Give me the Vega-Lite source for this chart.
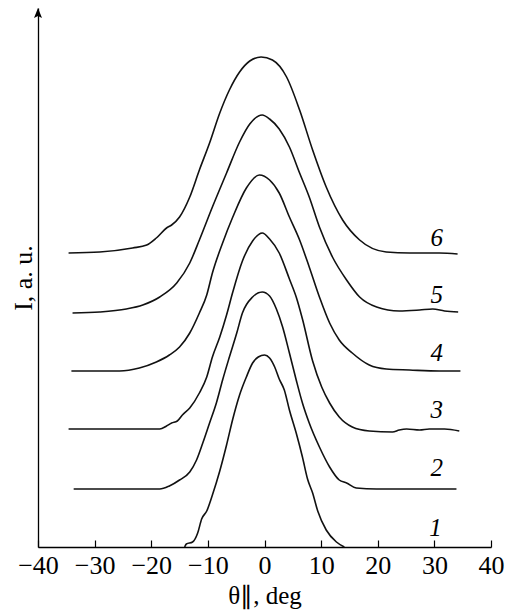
{
  "$schema": "https://vega.github.io/schema/vega-lite/v6.json",
  "width": 453,
  "height": 539,
  "autosize": {"type": "none"},
  "padding": {"left": 38, "top": 8, "right": 20, "bottom": 69},
  "background": "white",
  "config": {
    "view": {"stroke": null},
    "font": "Liberation Serif",
    "axis": {"grid": false, "domainColor": "black", "tickColor": "black", "labelColor": "black", "titleColor": "black", "labelFont": "Liberation Serif", "titleFont": "Liberation Serif", "titleFontWeight": "normal", "domainWidth": 1.3, "tickWidth": 1.2}
  },
  "datasets": {
    "curves": [
      {"curve": "6", "theta": -34.6, "I": 294}, {"curve": "6", "theta": -29.1, "I": 295}, {"curve": "6", "theta": -23.3, "I": 299}, {"curve": "6", "theta": -20.8, "I": 302}, {"curve": "6", "theta": -19.1, "I": 309}, {"curve": "6", "theta": -17.3, "I": 319}, {"curve": "6", "theta": -16.4, "I": 322}, {"curve": "6", "theta": -15.0, "I": 330}, {"curve": "6", "theta": -13.2, "I": 350}, {"curve": "6", "theta": -11.5, "I": 377}, {"curve": "6", "theta": -9.7, "I": 404}, {"curve": "6", "theta": -7.9, "I": 434}, {"curve": "6", "theta": -6.2, "I": 457}, {"curve": "6", "theta": -4.4, "I": 475}, {"curve": "6", "theta": -2.6, "I": 486}, {"curve": "6", "theta": -0.6, "I": 490}, {"curve": "6", "theta": 1.4, "I": 487}, {"curve": "6", "theta": 3.9, "I": 470}, {"curve": "6", "theta": 6.2, "I": 437}, {"curve": "6", "theta": 8.5, "I": 397}, {"curve": "6", "theta": 10.9, "I": 360}, {"curve": "6", "theta": 13.8, "I": 327}, {"curve": "6", "theta": 16.8, "I": 307}, {"curve": "6", "theta": 21.5, "I": 295}, {"curve": "6", "theta": 25.6, "I": 294}, {"curve": "6", "theta": 30.9, "I": 294}, {"curve": "6", "theta": 34.1, "I": 293},
      {"curve": "5", "theta": -33.9, "I": 234}, {"curve": "5", "theta": -29.1, "I": 235}, {"curve": "5", "theta": -24.4, "I": 238}, {"curve": "5", "theta": -21.5, "I": 242}, {"curve": "5", "theta": -18.5, "I": 250}, {"curve": "5", "theta": -15.5, "I": 264}, {"curve": "5", "theta": -13.2, "I": 284}, {"curve": "5", "theta": -11.5, "I": 307}, {"curve": "5", "theta": -9.2, "I": 340}, {"curve": "5", "theta": -6.7, "I": 374}, {"curve": "5", "theta": -4.4, "I": 405}, {"curve": "5", "theta": -2.6, "I": 423}, {"curve": "5", "theta": -0.4, "I": 432}, {"curve": "5", "theta": 0.9, "I": 428}, {"curve": "5", "theta": 2.6, "I": 418}, {"curve": "5", "theta": 4.4, "I": 400}, {"curve": "5", "theta": 6.2, "I": 374}, {"curve": "5", "theta": 7.9, "I": 350}, {"curve": "5", "theta": 9.7, "I": 320}, {"curve": "5", "theta": 12.0, "I": 290}, {"curve": "5", "theta": 14.5, "I": 267}, {"curve": "5", "theta": 16.8, "I": 250}, {"curve": "5", "theta": 19.8, "I": 240}, {"curve": "5", "theta": 23.8, "I": 236}, {"curve": "5", "theta": 27.4, "I": 237}, {"curve": "5", "theta": 29.7, "I": 238}, {"curve": "5", "theta": 31.8, "I": 236}, {"curve": "5", "theta": 34.2, "I": 235},
      {"curve": "4", "theta": -34.1, "I": 176}, {"curve": "4", "theta": -29.1, "I": 176}, {"curve": "4", "theta": -25.6, "I": 176}, {"curve": "4", "theta": -22.1, "I": 179}, {"curve": "4", "theta": -19.1, "I": 185}, {"curve": "4", "theta": -16.8, "I": 192}, {"curve": "4", "theta": -15.0, "I": 200}, {"curve": "4", "theta": -13.2, "I": 214}, {"curve": "4", "theta": -11.5, "I": 234}, {"curve": "4", "theta": -10.2, "I": 252}, {"curve": "4", "theta": -9.2, "I": 274}, {"curve": "4", "theta": -7.4, "I": 304}, {"curve": "4", "theta": -5.6, "I": 330}, {"curve": "4", "theta": -3.2, "I": 359}, {"curve": "4", "theta": -0.9, "I": 372}, {"curve": "4", "theta": 0.9, "I": 367}, {"curve": "4", "theta": 2.6, "I": 354}, {"curve": "4", "theta": 4.4, "I": 330}, {"curve": "4", "theta": 6.2, "I": 307}, {"curve": "4", "theta": 7.9, "I": 280}, {"curve": "4", "theta": 9.7, "I": 250}, {"curve": "4", "theta": 11.5, "I": 224}, {"curve": "4", "theta": 13.2, "I": 207}, {"curve": "4", "theta": 15.5, "I": 194}, {"curve": "4", "theta": 18.5, "I": 182}, {"curve": "4", "theta": 21.5, "I": 178}, {"curve": "4", "theta": 25.6, "I": 177}, {"curve": "4", "theta": 30.9, "I": 176}, {"curve": "4", "theta": 34.6, "I": 176},
      {"curve": "3", "theta": -34.6, "I": 118}, {"curve": "3", "theta": -29.1, "I": 118}, {"curve": "3", "theta": -23.3, "I": 118}, {"curve": "3", "theta": -18.5, "I": 118}, {"curve": "3", "theta": -17.3, "I": 121}, {"curve": "3", "theta": -16.4, "I": 124}, {"curve": "3", "theta": -15.4, "I": 126}, {"curve": "3", "theta": -14.5, "I": 132}, {"curve": "3", "theta": -13.2, "I": 139}, {"curve": "3", "theta": -11.5, "I": 154}, {"curve": "3", "theta": -10.2, "I": 170}, {"curve": "3", "theta": -9.2, "I": 190}, {"curve": "3", "theta": -7.9, "I": 210}, {"curve": "3", "theta": -6.7, "I": 232}, {"curve": "3", "theta": -5.6, "I": 255}, {"curve": "3", "theta": -3.9, "I": 286}, {"curve": "3", "theta": -2.1, "I": 306}, {"curve": "3", "theta": -0.4, "I": 314}, {"curve": "3", "theta": 0.9, "I": 308}, {"curve": "3", "theta": 2.6, "I": 294}, {"curve": "3", "theta": 4.4, "I": 268}, {"curve": "3", "theta": 5.6, "I": 250}, {"curve": "3", "theta": 6.7, "I": 228}, {"curve": "3", "theta": 8.5, "I": 186}, {"curve": "3", "theta": 10.1, "I": 160}, {"curve": "3", "theta": 11.5, "I": 144}, {"curve": "3", "theta": 13.2, "I": 130}, {"curve": "3", "theta": 15.5, "I": 120}, {"curve": "3", "theta": 18.5, "I": 116}, {"curve": "3", "theta": 22.6, "I": 115}, {"curve": "3", "theta": 23.8, "I": 117}, {"curve": "3", "theta": 25.1, "I": 118}, {"curve": "3", "theta": 27.4, "I": 117}, {"curve": "3", "theta": 29.1, "I": 118}, {"curve": "3", "theta": 31.8, "I": 118}, {"curve": "3", "theta": 34.4, "I": 116},
      {"curve": "2", "theta": -33.7, "I": 58}, {"curve": "2", "theta": -29.1, "I": 58}, {"curve": "2", "theta": -23.8, "I": 58}, {"curve": "2", "theta": -18.5, "I": 58}, {"curve": "2", "theta": -16.8, "I": 61}, {"curve": "2", "theta": -15.0, "I": 67}, {"curve": "2", "theta": -13.2, "I": 75}, {"curve": "2", "theta": -12.0, "I": 87}, {"curve": "2", "theta": -10.9, "I": 104}, {"curve": "2", "theta": -9.7, "I": 124}, {"curve": "2", "theta": -8.5, "I": 144}, {"curve": "2", "theta": -7.4, "I": 167}, {"curve": "2", "theta": -6.2, "I": 190}, {"curve": "2", "theta": -4.9, "I": 214}, {"curve": "2", "theta": -3.9, "I": 234}, {"curve": "2", "theta": -2.1, "I": 250}, {"curve": "2", "theta": -0.4, "I": 255}, {"curve": "2", "theta": 0.9, "I": 251}, {"curve": "2", "theta": 2.1, "I": 238}, {"curve": "2", "theta": 3.2, "I": 220}, {"curve": "2", "theta": 4.4, "I": 194}, {"curve": "2", "theta": 5.6, "I": 167}, {"curve": "2", "theta": 6.7, "I": 144}, {"curve": "2", "theta": 7.9, "I": 124}, {"curve": "2", "theta": 9.7, "I": 100}, {"curve": "2", "theta": 11.5, "I": 80}, {"curve": "2", "theta": 13.2, "I": 67}, {"curve": "2", "theta": 14.5, "I": 64}, {"curve": "2", "theta": 16.2, "I": 59}, {"curve": "2", "theta": 19.8, "I": 58}, {"curve": "2", "theta": 25.6, "I": 58}, {"curve": "2", "theta": 33.9, "I": 58},
      {"curve": "1", "theta": -14.1, "I": 0}, {"curve": "1", "theta": -13.8, "I": 3}, {"curve": "1", "theta": -12.7, "I": 5}, {"curve": "1", "theta": -11.8, "I": 14}, {"curve": "1", "theta": -11.1, "I": 28}, {"curve": "1", "theta": -10.2, "I": 36}, {"curve": "1", "theta": -9.2, "I": 52}, {"curve": "1", "theta": -7.9, "I": 76}, {"curve": "1", "theta": -6.7, "I": 102}, {"curve": "1", "theta": -5.6, "I": 128}, {"curve": "1", "theta": -4.4, "I": 152}, {"curve": "1", "theta": -3.2, "I": 170}, {"curve": "1", "theta": -2.1, "I": 184}, {"curve": "1", "theta": -1.1, "I": 190}, {"curve": "1", "theta": 0, "I": 192}, {"curve": "1", "theta": 0.9, "I": 189}, {"curve": "1", "theta": 1.8, "I": 180}, {"curve": "1", "theta": 2.6, "I": 168}, {"curve": "1", "theta": 3.5, "I": 157}, {"curve": "1", "theta": 4.4, "I": 137}, {"curve": "1", "theta": 5.6, "I": 114}, {"curve": "1", "theta": 6.7, "I": 90}, {"curve": "1", "theta": 7.6, "I": 68}, {"curve": "1", "theta": 8.5, "I": 54}, {"curve": "1", "theta": 9.4, "I": 36}, {"curve": "1", "theta": 10.9, "I": 17}, {"curve": "1", "theta": 12.7, "I": 5}, {"curve": "1", "theta": 14.1, "I": 0}
    ],
    "labels": [
      {"curve": "6", "theta": 30.4, "I": 309},
      {"curve": "5", "theta": 30.4, "I": 252},
      {"curve": "4", "theta": 30.4, "I": 194},
      {"curve": "3", "theta": 30.4, "I": 137},
      {"curve": "2", "theta": 30.4, "I": 79},
      {"curve": "1", "theta": 30.2, "I": 19}
    ],
    "arrow": [{"theta": -40, "I": 534}]
  },
  "layer": [
    {
      "data": {"name": "curves"},
      "mark": {"type": "line", "color": "#111", "strokeWidth": 1.6, "interpolate": "monotone"},
      "encoding": {
        "x": {"field": "theta", "type": "quantitative", "scale": {"domain": [-40, 40], "nice": false},
          "axis": {"values": [-40, -30, -20, -10, 0, 10, 20, 30, 40], "tickSize": -7, "labelPadding": 12, "labelFontSize": 26, "labelFlush": false, "title": "θ∥, deg", "titleFontSize": 25, "titlePadding": 5}},
        "y": {"field": "I", "type": "quantitative", "scale": {"domain": [0, 539], "nice": false},
          "axis": {"labels": false, "ticks": false, "title": "I, a. u.", "titleFontSize": 26, "titlePadding": 2}},
        "detail": {"field": "curve"}
      }
    },
    {
      "data": {"name": "labels"},
      "mark": {"type": "text", "font": "Liberation Serif", "fontStyle": "italic", "fontSize": 25, "color": "black"},
      "encoding": {
        "x": {"field": "theta", "type": "quantitative"},
        "y": {"field": "I", "type": "quantitative"},
        "text": {"field": "curve"}
      }
    },
    {
      "data": {"name": "arrow"},
      "mark": {"type": "point", "shape": "M0,-1L0.8,1L0,0.6L-0.8,1Z", "filled": true, "color": "black", "size": 100, "opacity": 1},
      "encoding": {
        "x": {"field": "theta", "type": "quantitative"},
        "y": {"field": "I", "type": "quantitative"}
      }
    }
  ]
}
